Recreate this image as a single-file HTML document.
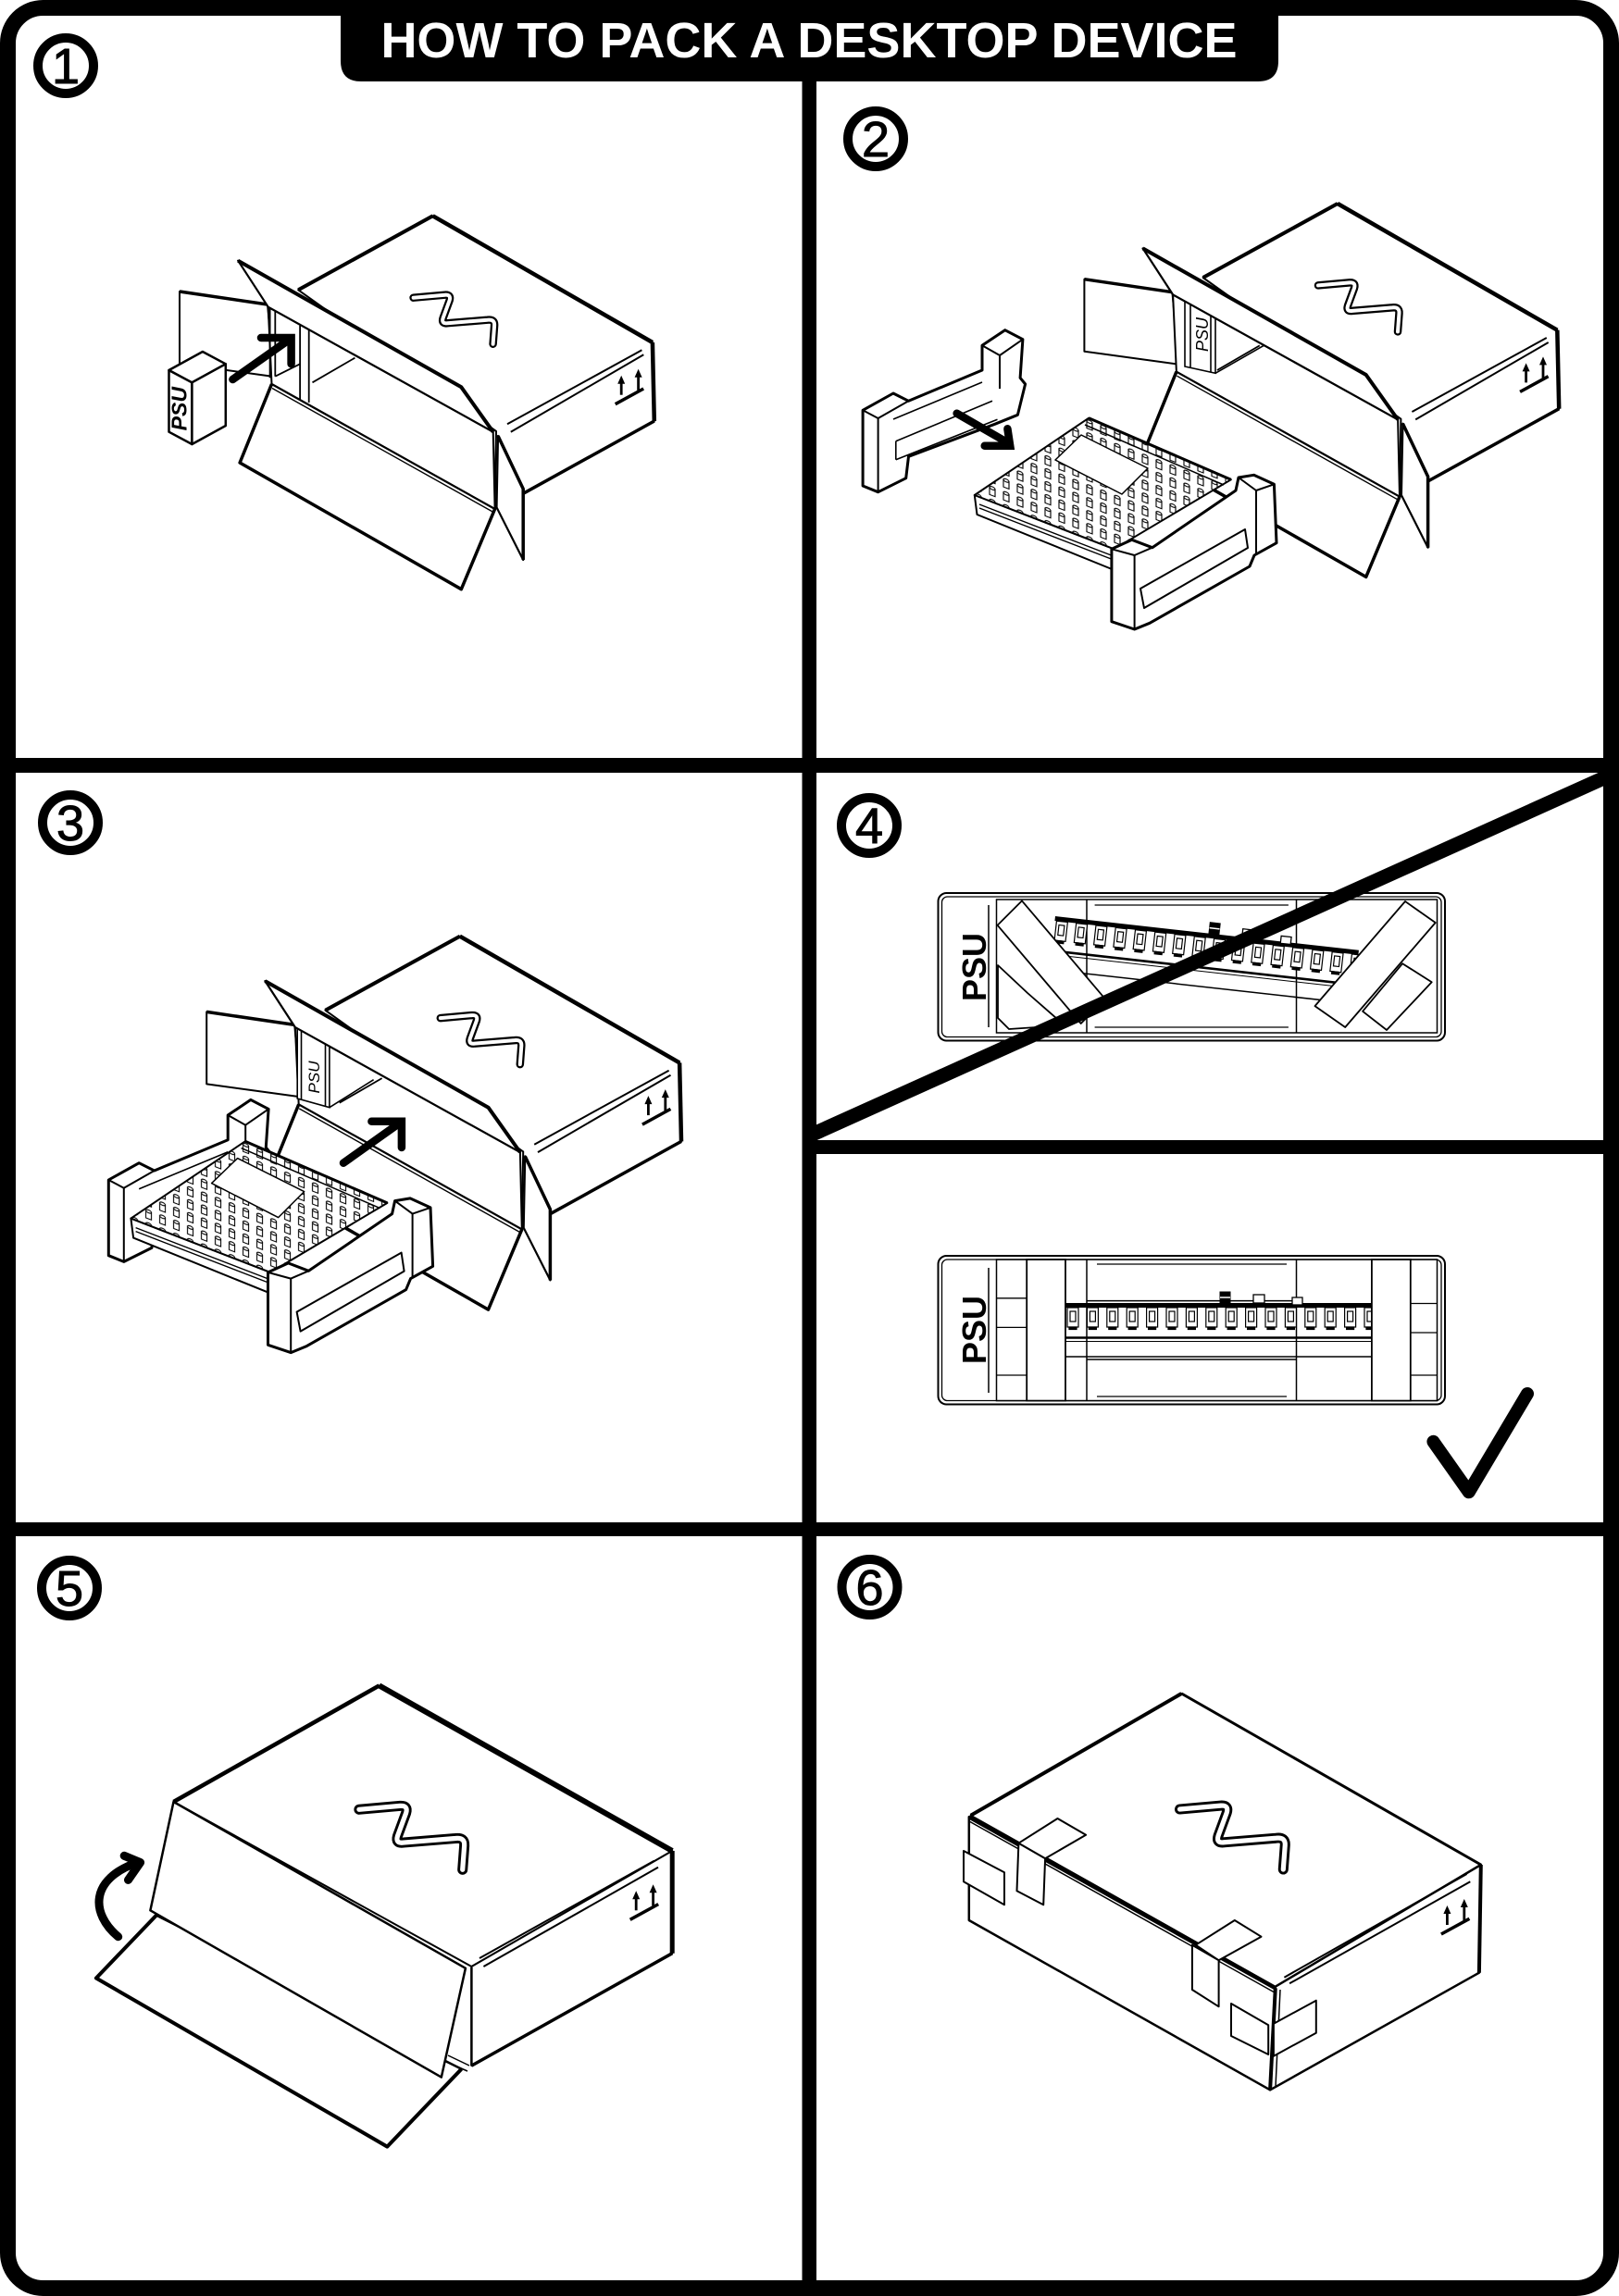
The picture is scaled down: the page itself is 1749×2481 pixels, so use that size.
<!DOCTYPE html>
<html><head><meta charset="utf-8"><style>
html,body{margin:0;padding:0;background:#fff;}
svg{display:block;}
</style></head><body>
<svg xmlns="http://www.w3.org/2000/svg" xmlns:xlink="http://www.w3.org/1999/xlink" width="1749" height="2481" viewBox="0 0 1749 2481">
<defs>
 <pattern id="kn" width="15" height="14" patternUnits="userSpaceOnUse" patternTransform="skewY(21)">
  <rect width="15" height="14" fill="#fff"/>
  <rect x="4" y="4" width="6" height="8" fill="#fff" stroke="#000" stroke-width="1.1"/>
  <ellipse cx="7" cy="4" rx="3" ry="1.6" fill="#fff" stroke="#000" stroke-width="1.1"/>
 </pattern>
 <g id="logo" fill="none" stroke-linejoin="round">
  <path d="M0,0 L34,-3 Q41,-3.5 39,3 L32,22 Q30,28.5 37,27.5 L80,24 Q88,23 87.5,30 L86,50" stroke="#000" stroke-width="8.5" stroke-linecap="round"/>
  <path d="M0,0 L34,-3 Q41,-3.5 39,3 L32,22 Q30,28.5 37,27.5 L80,24 Q88,23 87.5,30 L86,50" stroke="#fff" stroke-width="4" stroke-linecap="round"/>
 </g>
 <g id="ar2" stroke="#000" fill="#000">
  <line x1="0" y1="0" x2="0" y2="-14" stroke-width="2.8"/>
  <polygon points="-4,-12 0,-21 4,-12" stroke="none"/>
  <line x1="18.4" y1="-5" x2="18.4" y2="-21" stroke-width="2.8"/>
  <polygon points="14.4,-19 18.4,-28 22.4,-19" stroke="none"/>
  <line x1="-6.5" y1="10" x2="24" y2="-6.7" stroke-width="3.5"/>
 </g>
 <g id="boxA" stroke="#000" fill="#fff" stroke-linejoin="round">
  <polygon points="194,315 289,329 296,407 194,393" stroke-width="2"/>
  <line x1="194" y1="315" x2="289" y2="329" stroke-width="3.5"/>
  <polygon points="322.2,313.3 467.6,233.3 704.9,370 706.8,455 534.6,550 536,466" stroke-width="2"/>
  <polygon points="289.7,331.7 532.7,466.7 534.6,550 293.5,415" stroke-width="2"/>
  <line x1="337.5" y1="413.3" x2="383.4" y2="386.7" stroke-width="1.8"/>
 </g>
 <g id="boxB" stroke="#000" fill="#fff" stroke-linejoin="round">
  <polygon points="257.2,281.7 498.3,418.3 532.7,466.7 289.7,331.7" stroke-width="2.2"/>
  <polyline points="257.2,281.7 498.3,418.3 532.7,466.7" fill="none" stroke-width="4"/>
  <polygon points="293.5,415 534.6,550 498.3,636.7 259.1,500" stroke-width="2.2"/>
  <polyline points="534.6,550 498.3,636.7 259.1,500 293.5,415" fill="none" stroke-width="3.5"/>
  <line x1="294" y1="419.5" x2="534" y2="554" stroke-width="1.4"/>
  <polygon points="538,471 565.2,528.3 565.2,605 536.5,548.3" stroke-width="2.2"/>
  <polyline points="538,471 565.2,528.3 565.2,605" fill="none" stroke-width="3.5"/>
  <line x1="467.6" y1="233.3" x2="704.9" y2="370" stroke-width="4.5"/>
  <line x1="322.2" y1="313.3" x2="467.6" y2="233.3" stroke-width="4"/>
  <line x1="704.9" y1="370" x2="706.8" y2="455" stroke-width="4.5"/>
  <line x1="565.2" y1="533.3" x2="706.8" y2="455" stroke-width="3.5"/>
  <line x1="548" y1="458.3" x2="693.4" y2="378.3" stroke-width="2"/>
  <line x1="551.8" y1="466.7" x2="695.3" y2="383.3" stroke-width="2"/>
  <use xlink:href="#ar2" href="#ar2" transform="translate(671.2,426.7)"/>
  <use xlink:href="#logo" href="#logo" transform="translate(446.6,321.7)"/>
 </g>
 <g id="foamL" stroke="#000" fill="#fff" stroke-linejoin="round">
  <polygon points="932.1,443.3 965,425 981.5,433.3 1061,400 1061,373.3 1085.7,356.7 1104.9,366.7 1102.1,408.3 1107.6,415 1099.4,448.3 1074.7,458.3 981.5,493.3 978.7,516.7 948.6,531.7 932.1,525" stroke-width="3"/>
  <polyline points="932.1,443.3 948.6,452 981.5,433.3" fill="none" stroke-width="2"/>
  <line x1="948.6" y1="452" x2="948.6" y2="531.7" stroke-width="2"/>
  <polyline points="1061,373.3 1080,384 1104.9,366.7" fill="none" stroke-width="2"/>
  <line x1="1080" y1="384" x2="1080" y2="420" stroke-width="2"/>
  <line x1="965" y1="453" x2="1061" y2="413" stroke-width="1.6"/>
  <line x1="967.8" y1="476.7" x2="1072" y2="433.3" stroke-width="1.6"/>
  <line x1="967.8" y1="496.7" x2="1077.5" y2="453.3" stroke-width="1.6"/>
  <line x1="967.8" y1="476.7" x2="967.8" y2="496.7" stroke-width="1.6"/>
 </g>
 <g id="dev" stroke="#000" stroke-linejoin="round">
  <polygon points="1052.8,535 1203.6,593.3 1203.6,616 1055.5,556" fill="#fff" stroke-width="2"/>
  <line x1="1058" y1="545" x2="1203" y2="601" stroke-width="1.4"/>
  <line x1="1058" y1="549" x2="1203" y2="605" stroke-width="1.4"/>
  <polygon points="1052.8,535 1176.2,451.7 1329.8,518.3 1203.6,593.3" fill="url(#kn)" stroke-width="2"/>
  <polygon points="1168,470 1240,506 1212,534 1140,497" fill="#fff" stroke-width="1.5"/>
  <line x1="1176.2" y1="451.7" x2="1329.8" y2="518.3" stroke-width="3"/>
  <line x1="1172" y1="459" x2="1322" y2="524" stroke-width="1.5"/>
 </g>
 <g id="foamR" stroke="#000" fill="#fff" stroke-linejoin="round">
  <polygon points="1200.9,593.3 1222.8,583.3 1244.8,591.7 1335,530 1338,516 1354.5,513.3 1376.4,523.3 1379,586.7 1355,600 1350,612 1242,673.3 1225.6,680 1200.9,671.7" stroke-width="3"/>
  <polyline points="1200.9,593.3 1225.6,600 1244.8,591.7" fill="none" stroke-width="2"/>
  <line x1="1225.6" y1="600" x2="1225.6" y2="680" stroke-width="2"/>
  <polyline points="1338,516 1357,530 1376.4,523.3" fill="none" stroke-width="2"/>
  <line x1="1357" y1="530" x2="1357" y2="598" stroke-width="2"/>
  <polygon points="1232,636 1345,572 1348,592 1236,657" stroke-width="2"/>
 </g>
 <g id="k" stroke="#000" stroke-width="1.2">
  <rect x="0" y="0" width="12" height="21" fill="#fff"/>
  <rect x="3" y="4" width="6" height="11" fill="#fff"/>
  <rect x="2" y="21" width="8" height="2.5" fill="#000"/>
 </g>
 <g id="dev4" stroke="#000" fill="#fff">
  <rect x="1151" y="1408" width="330" height="5" fill="#000" stroke="none"/>
  <use xlink:href="#k" href="#k" x="1153" y="1413"/>
  <use xlink:href="#k" href="#k" x="1174.4" y="1413"/>
  <use xlink:href="#k" href="#k" x="1195.8" y="1413"/>
  <use xlink:href="#k" href="#k" x="1217.2" y="1413"/>
  <use xlink:href="#k" href="#k" x="1238.6" y="1413"/>
  <use xlink:href="#k" href="#k" x="1260" y="1413"/>
  <use xlink:href="#k" href="#k" x="1281.4" y="1413"/>
  <use xlink:href="#k" href="#k" x="1302.8" y="1413"/>
  <use xlink:href="#k" href="#k" x="1324.2" y="1413"/>
  <use xlink:href="#k" href="#k" x="1345.6" y="1413"/>
  <use xlink:href="#k" href="#k" x="1367" y="1413"/>
  <use xlink:href="#k" href="#k" x="1388.4" y="1413"/>
  <use xlink:href="#k" href="#k" x="1409.8" y="1413"/>
  <use xlink:href="#k" href="#k" x="1431.2" y="1413"/>
  <use xlink:href="#k" href="#k" x="1452.6" y="1413"/>
  <use xlink:href="#k" href="#k" x="1474" y="1413"/>
  <rect x="1318" y="1396" width="11" height="14" fill="#000" stroke-width="1"/>
  <line x1="1318" y1="1402" x2="1329" y2="1402" stroke="#fff" stroke-width="1.5"/>
  <rect x="1354" y="1399" width="12" height="9" stroke-width="1.3"/>
  <rect x="1396" y="1402" width="11" height="8" stroke-width="1.3"/>
  <line x1="1151" y1="1445.5" x2="1481" y2="1445.5" stroke-width="2.6"/>
  <line x1="1151" y1="1449.5" x2="1481" y2="1449.5" stroke-width="1"/>
  <line x1="1151" y1="1466" x2="1481" y2="1466" stroke-width="1.5"/>
 </g>
 <clipPath id="c4"><rect x="1077" y="972.5" width="475" height="143"/></clipPath>
 <clipPath id="cd"><rect x="881" y="835" width="851" height="397"/></clipPath>
</defs>

<rect width="1749" height="2481" fill="#fff"/>

<!-- ================= PANEL 1 ================= -->
<use xlink:href="#boxA" href="#boxA"/>
<g stroke="#000" stroke-width="1.8">
 <line x1="291.6" y1="331.7" x2="291.6" y2="408.3"/>
 <line x1="297.3" y1="333" x2="297.3" y2="406.7"/>
 <line x1="324.1" y1="351.7" x2="324.1" y2="433.3"/>
 <line x1="333.7" y1="356.7" x2="333.7" y2="435"/>
 <line x1="297.3" y1="406.7" x2="324.1" y2="393.3"/>
</g>
<use xlink:href="#boxB" href="#boxB"/>
<g stroke="#000" fill="#fff" stroke-linejoin="round" stroke-width="2.5">
 <polygon points="182.5,400 207.4,413.3 207.4,480 182.5,466.7"/>
 <polygon points="182.5,400 218.9,380 243.8,393.3 207.4,413.3"/>
 <polygon points="207.4,413.3 243.8,393.3 243.8,460 207.4,480"/>
</g>
<text transform="translate(201.5,441.7) rotate(-90)" text-anchor="middle" font-family="Liberation Sans, Arial, sans-serif" font-size="23" font-weight="bold" font-style="italic" fill="#000">PSU</text>
<g stroke="#000" fill="none" stroke-width="8.5" stroke-linecap="round" stroke-linejoin="miter">
 <line x1="251.4" y1="410" x2="311" y2="368"/>
 <polyline points="282,365 314.6,365 314.6,393.3"/>
</g>

<!-- ================= PANEL 2 ================= -->
<use xlink:href="#boxA" href="#boxA" transform="translate(977.4,-13.3)"/>
<g stroke="#000" fill="#fff" stroke-width="1.6">
 <polygon points="1280,318 1313,336 1313,403.3 1280,396"/>
 <line x1="1286" y1="321" x2="1286" y2="397.5"/>
 <line x1="1308" y1="334" x2="1308" y2="402"/>
 <line x1="1313" y1="403.3" x2="1368.2" y2="371.7"/>
</g>
<text transform="translate(1305,361.5) rotate(-90)" text-anchor="middle" font-family="Liberation Sans, Arial, sans-serif" font-size="18" font-style="italic" fill="#000">PSU</text>
<use xlink:href="#boxB" href="#boxB" transform="translate(977.4,-13.3)"/>
<use xlink:href="#foamL" href="#foamL"/>
<g stroke="#000" fill="none" stroke-width="8.5" stroke-linecap="round">
 <line x1="1033.6" y1="446.7" x2="1088" y2="478"/>
 <polyline points="1063.7,481.7 1091.2,481.7 1088.4,463.3"/>
</g>
<use xlink:href="#dev" href="#dev"/>
<use xlink:href="#foamR" href="#foamR"/>

<!-- ================= PANEL 3 ================= -->
<use xlink:href="#boxA" href="#boxA" transform="translate(29.2,778.4)"/>
<g stroke="#000" fill="#fff" stroke-width="1.6">
 <polygon points="321.2,1110 355.9,1129 355.9,1196.7 321.2,1187"/>
 <line x1="325.5" y1="1112" x2="325.5" y2="1188"/>
 <line x1="351.5" y1="1127" x2="351.5" y2="1196"/>
 <line x1="355.9" y1="1196.7" x2="403.6" y2="1166.7"/>
</g>
<text transform="translate(345,1164) rotate(-90)" text-anchor="middle" font-family="Liberation Sans, Arial, sans-serif" font-size="17" font-style="italic" fill="#000">PSU</text>
<use xlink:href="#boxB" href="#boxB" transform="translate(29.2,778.4)"/>
<g stroke="#000" fill="none" stroke-width="8.5" stroke-linecap="round">
 <line x1="371" y1="1256.7" x2="431" y2="1214"/>
 <polyline points="401.4,1211.7 433.9,1211.7 433.9,1240"/>
</g>
<use xlink:href="#foamL" href="#foamL" transform="translate(-814.8,831.7)"/>
<use xlink:href="#dev" href="#dev" transform="translate(-911.4,781.6)"/>
<use xlink:href="#foamR" href="#foamR" transform="translate(-911.4,781.6)"/>

<!-- ================= PANEL 4 top (wrong) ================= -->
<g stroke="#000" fill="#fff">
 <rect x="1013.5" y="965" width="547.5" height="159.5" rx="9" stroke-width="2"/>
 <rect x="1017.5" y="969" width="539.5" height="151.5" rx="6" fill="none" stroke-width="1.3"/>
 <line x1="1068" y1="978" x2="1068" y2="1110" stroke-width="1.5"/>
 <rect x="1076.5" y="972" width="476" height="144" fill="none" stroke-width="1.5"/>
 <line x1="1174" y1="972" x2="1174" y2="1116" stroke-width="1.5"/>
 <line x1="1400.5" y1="972" x2="1400.5" y2="1116" stroke-width="1.5"/>
 <line x1="1182.6" y1="978" x2="1391.9" y2="978" stroke-width="1.3"/>
 <line x1="1182.6" y1="1110" x2="1391.9" y2="1110" stroke-width="1.3"/>
</g>
<text transform="translate(1065,1045) rotate(-90)" text-anchor="middle" font-family="Liberation Sans, Arial, sans-serif" font-size="36" font-weight="bold" fill="#000">PSU</text>
<g clip-path="url(#c4)">
 <use xlink:href="#dev4" href="#dev4" transform="translate(1140,990) rotate(6.4) translate(-1151,-1408)"/>
</g>
<g stroke="#000" fill="#fff" stroke-width="1.8" stroke-linejoin="round">
 <polygon points="1078,1043 1110,1073 1150,1108 1090,1112 1078,1100"/>
 <polygon points="1077.6,999.8 1104,973.4 1194,1079.6 1167.7,1106"/>
 <polygon points="1472.1,1092.8 1515.1,1041.2 1546.7,1061.3 1498,1113"/>
 <polygon points="1420.5,1087.1 1518,974 1550.7,997 1453.2,1110"/>
</g>

<!-- ================= PANEL 4 bottom (right) ================= -->
<g stroke="#000" fill="#fff">
 <rect x="1013.5" y="1357" width="547.5" height="160.5" rx="9" stroke-width="2"/>
 <rect x="1017.5" y="1361" width="539.5" height="152.5" rx="6" fill="none" stroke-width="1.3"/>
 <line x1="1068" y1="1370" x2="1068" y2="1505" stroke-width="1.5"/>
 <rect x="1076.5" y="1361" width="476" height="152.6" fill="none" stroke-width="1.5"/>
 <line x1="1174" y1="1361" x2="1174" y2="1513.6" stroke-width="1.5"/>
 <line x1="1400.5" y1="1361" x2="1400.5" y2="1513.6" stroke-width="1.5"/>
 <line x1="1174" y1="1405.6" x2="1400.5" y2="1405.6" stroke-width="1.5"/>
 <line x1="1174" y1="1469" x2="1400.5" y2="1469" stroke-width="1.5"/>
 <line x1="1185" y1="1366" x2="1390" y2="1366" stroke-width="1.3"/>
 <line x1="1185" y1="1509" x2="1390" y2="1509" stroke-width="1.3"/>
 <line x1="1076.5" y1="1402.8" x2="1109" y2="1402.8" stroke-width="1.3"/>
 <line x1="1076.5" y1="1434.4" x2="1109" y2="1434.4" stroke-width="1.3"/>
 <line x1="1076.5" y1="1486" x2="1109" y2="1486" stroke-width="1.3"/>
 <line x1="1524" y1="1408.5" x2="1552" y2="1408.5" stroke-width="1.3"/>
 <line x1="1524" y1="1440" x2="1552" y2="1440" stroke-width="1.3"/>
 <line x1="1524" y1="1486" x2="1552" y2="1486" stroke-width="1.3"/>
</g>
<text transform="translate(1065,1437) rotate(-90)" text-anchor="middle" font-family="Liberation Sans, Arial, sans-serif" font-size="36" font-weight="bold" fill="#000">PSU</text>
<use xlink:href="#dev4" href="#dev4"/>
<g stroke="#000" fill="#fff" stroke-width="1.8">
 <rect x="1109.2" y="1361" width="41.8" height="152.6"/>
 <rect x="1481.9" y="1361" width="41.9" height="152.6"/>
</g>
<polyline points="1548.4,1557.8 1586.8,1612.3 1650,1506" fill="none" stroke="#000" stroke-width="14" stroke-linecap="round" stroke-linejoin="round"/>

<!-- ================= PANEL 5 ================= -->
<g stroke="#000" fill="#fff" stroke-linejoin="round">
 <polygon points="168.9,2069.6 498.5,2235.7 418.3,2319.6 103.9,2137.5" stroke-width="2.5"/>
 <polyline points="498.5,2235.7 418.3,2319.6 103.9,2137.5 168.9,2069.6" fill="none" stroke-width="4"/>
 <polygon points="187.5,1947 409.6,1821.4 726.2,2000 509.4,2125" stroke-width="2"/>
 <polygon points="509.4,2125 726.2,2000 726.2,2110.7 509.4,2232.1" stroke-width="2"/>
 <polygon points="187.5,1947 502.9,2126.8 476.8,2244.6 162.4,2064.3" stroke-width="2.5"/>
 <line x1="187.5" y1="1947" x2="409.6" y2="1821.4" stroke-width="4.5"/>
 <line x1="409.6" y1="1821.4" x2="726.2" y2="2000" stroke-width="6"/>
 <line x1="726.2" y1="2000" x2="726.2" y2="2110.7" stroke-width="5"/>
 <line x1="726.2" y1="2110.7" x2="509.4" y2="2232.1" stroke-width="3.5"/>
 <line x1="509.4" y1="2126" x2="509.4" y2="2232" stroke-width="2.5"/>
 <line x1="484" y1="2221" x2="507" y2="2232" stroke-width="1.5"/>
 <line x1="482" y1="2228" x2="505" y2="2238" stroke-width="1.5"/>
 <line x1="518" y1="2116" x2="706.7" y2="2010.7" stroke-width="2"/>
 <line x1="522.4" y1="2125" x2="711" y2="2017.8" stroke-width="2"/>
</g>
<use xlink:href="#logo" href="#logo" transform="translate(387.9,1955.3) scale(1.3)"/>
<use xlink:href="#ar2" href="#ar2" transform="translate(687.2,2064.3)"/>
<g stroke="#000" fill="none" stroke-width="9" stroke-linecap="round" stroke-linejoin="round">
 <path d="M127.7,2092.8 C98,2068 96,2030 150,2012"/>
 <polyline points="134.2,2005.3 151.6,2012.5 138.5,2031.4"/>
</g>

<!-- ================= PANEL 6 ================= -->
<g stroke="#000" fill="#fff" stroke-linejoin="round">
 <polygon points="1048.7,1961.7 1276.4,1830 1599.8,2015 1377.8,2146.7" stroke-width="2"/>
 <polygon points="1046.8,1963.3 1377.8,2148.3 1372.1,2258.3 1046.8,2075" stroke-width="2.5"/>
 <polygon points="1377.8,2146.7 1599.8,2015 1597.9,2131.7 1372.1,2258.3" stroke-width="2.5"/>
 <line x1="1048.7" y1="1961.7" x2="1276.4" y2="1830" stroke-width="4"/>
 <line x1="1276.4" y1="1830" x2="1599.8" y2="2015" stroke-width="3"/>
 <line x1="1599.8" y1="2015" x2="1597.9" y2="2131.7" stroke-width="4"/>
 <line x1="1046.8" y1="1963.3" x2="1377.8" y2="2148.3" stroke-width="4.5"/>
 <line x1="1047" y1="1968" x2="1376" y2="2152.5" stroke-width="1.5"/>
 <line x1="1377.8" y1="2148.3" x2="1372.1" y2="2258.3" stroke-width="4"/>
 <line x1="1383" y1="2150" x2="1378" y2="2255" stroke-width="1.5"/>
 <line x1="1387.4" y1="2136.7" x2="1584.5" y2="2025" stroke-width="2"/>
 <line x1="1393.1" y1="2143.3" x2="1588.3" y2="2033.3" stroke-width="2"/>
 <polygon points="1100.4,1991.7 1142.5,1965 1173.1,1982.7 1129.1,2008.3" stroke-width="2"/>
 <polygon points="1100.4,1991.7 1129.1,2008.3 1127.2,2058.3 1098.5,2043.3" stroke-width="2"/>
 <polygon points="1041,2000 1085,2023.3 1085,2058.3 1041,2033.3" stroke-width="2"/>
 <polygon points="1291.7,2101.7 1333.8,2075 1362.5,2092.7 1316.6,2118.3" stroke-width="2"/>
 <polygon points="1287.9,2101.7 1316.6,2118.3 1316.6,2168.3 1287.9,2150" stroke-width="2"/>
 <polygon points="1330,2165 1370.2,2188.3 1370.2,2220 1330,2200" stroke-width="2"/>
 <polygon points="1375.9,2186.7 1421.8,2161.7 1421.8,2196.7 1375.9,2221.7" stroke-width="2"/>
</g>
<use xlink:href="#logo" href="#logo" transform="translate(1274.5,1955) scale(1.3)"/>
<use xlink:href="#ar2" href="#ar2" transform="translate(1563.4,2080)"/>

<!-- ================= FRAME ================= -->
<g clip-path="url(#cd)">
 <line x1="870" y1="1229.2" x2="1745" y2="835.2" stroke="#000" stroke-width="15.5"/>
</g>
<g fill="#000">
 <rect x="866.5" y="80" width="15.5" height="2392"/>
 <rect x="0" y="819" width="1749" height="16"/>
 <rect x="874" y="1232" width="875" height="15"/>
 <rect x="0" y="1645" width="1749" height="15"/>
</g>
<rect x="8.5" y="8.5" width="1732" height="2464" rx="38" fill="none" stroke="#000" stroke-width="17"/>
<path d="M368,0 H1381 V66 Q1381,88 1359,88 H390 Q368,88 368,66 Z" fill="#000"/>
<text x="874" y="62" text-anchor="middle" font-family="Liberation Sans, Arial, sans-serif" font-size="54" font-weight="bold" fill="#fff">HOW TO PACK A DESKTOP DEVICE</text>

<!-- circled numbers -->
<g font-family="Liberation Sans, Arial, sans-serif" font-size="54" text-anchor="middle" fill="#000" stroke="#000" stroke-width="1">
 <circle cx="71" cy="71" r="30" fill="#fff" stroke-width="10"/>
 <text x="71" y="90">1</text>
 <circle cx="946" cy="150" r="30" fill="#fff" stroke-width="10"/>
 <text x="946" y="169">2</text>
 <circle cx="76" cy="889" r="30" fill="#fff" stroke-width="10"/>
 <text x="76" y="908">3</text>
 <circle cx="939" cy="892" r="30" fill="#fff" stroke-width="10"/>
 <text x="939" y="911">4</text>
 <circle cx="75" cy="1716" r="30" fill="#fff" stroke-width="10"/>
 <text x="75" y="1735">5</text>
 <circle cx="939.5" cy="1715" r="30" fill="#fff" stroke-width="10"/>
 <text x="939.5" y="1734">6</text>
</g>
</svg>
</body></html>
